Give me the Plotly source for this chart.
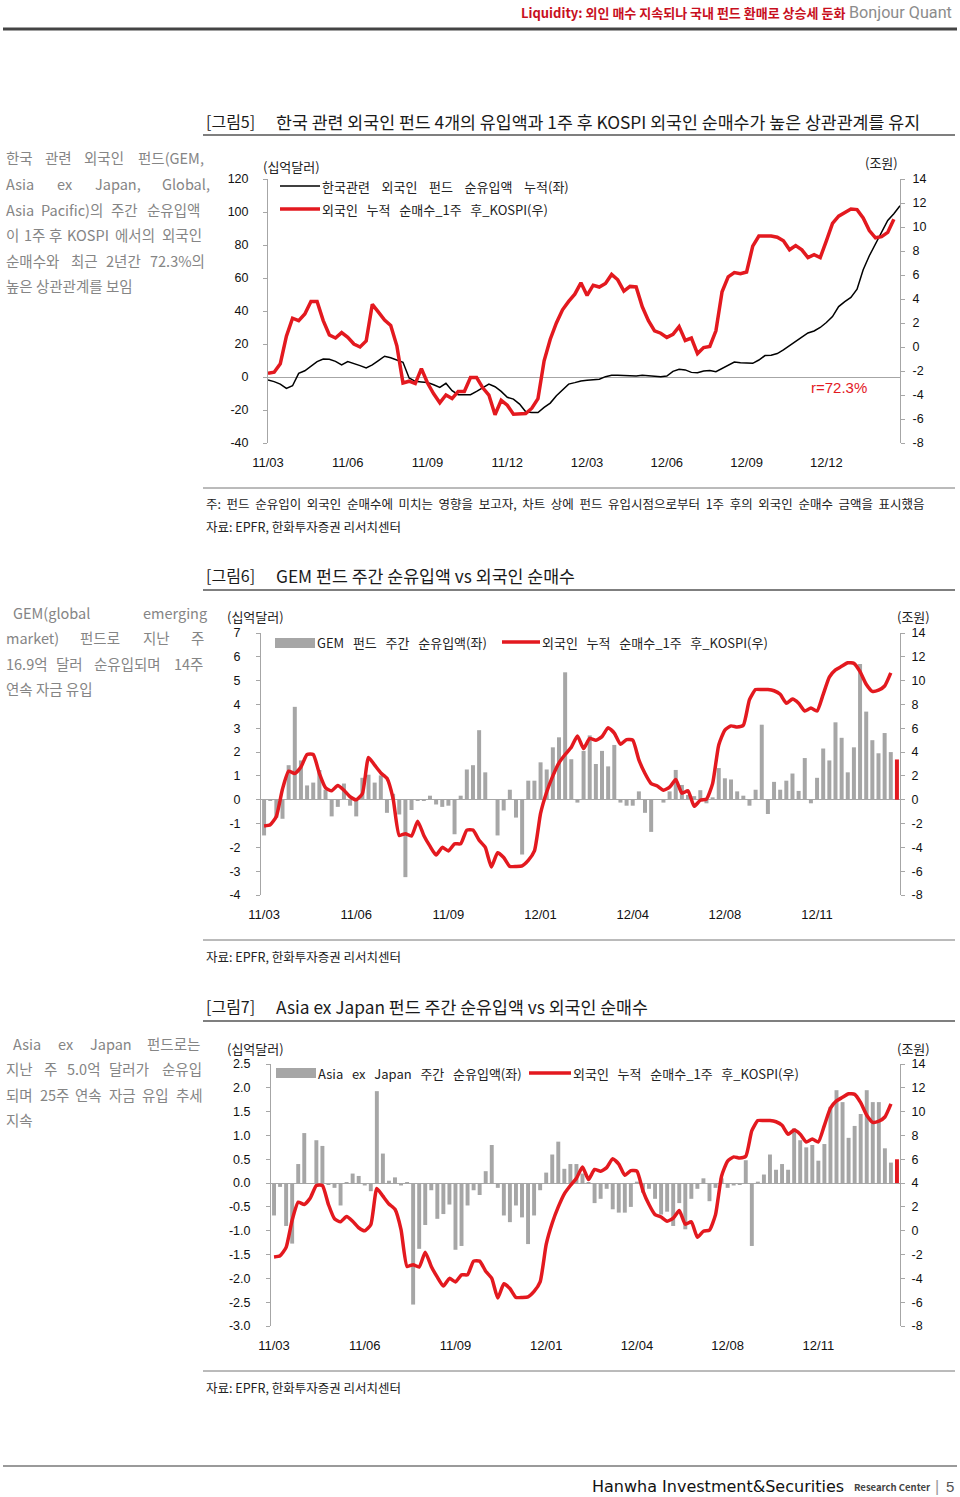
import plotly.graph_objects as go

W, H = 960, 1497
KR = "Noto Sans CJK KR"
NUM = "Liberation Sans"
RED = "#e3191f"
BAR_GRAY = "#a6a6a6"
AXIS_GRAY = "#a6a6a6"

# ---------------- data ----------------
weeks = list(range(104))

# 외국인 누적 순매수_1주 후_KOSPI (조원)
kospi_foreign_cum = [
    -2.2, -2.1, -1.4, 0.9, 2.4, 2.2, 2.75, 3.8, 3.8, 2.2,
    1.0, 0.75, 1.2, 0.8, 0.25, 0.0, 0.5, 3.55, 2.9, 2.25,
    1.8, 0.1, -3.0, -2.85, -3.05, -1.8, -3.0, -3.9, -4.65, -4.0,
    -4.3, -3.7, -3.7, -2.55, -2.55, -3.4, -4.0, -5.65, -4.45, -4.85,
    -5.6, -5.6, -5.55, -5.1, -4.3, -1.15, 0.65, 2.0, 3.1, 3.8,
    4.4, 5.35, 4.3, 5.15, 5.0, 5.3, 6.05, 5.6, 4.65, 5.05,
    5.0, 3.35, 2.2, 1.35, 1.15, 0.8, 1.05, 1.7, 0.55, 0.75,
    -0.55, -0.05, 0.05, 1.35, 4.6, 5.85, 6.2, 6.1, 6.25, 8.4,
    9.25, 9.25, 9.25, 9.15, 8.85, 8.1, 8.45, 8.1, 7.45, 7.7,
    7.45, 8.85, 10.3, 10.9, 11.2, 11.5, 11.45, 10.75, 9.7, 9.1,
    9.2, 9.55, 10.65,
]

# 한국관련 외국인 펀드 순유입액 누적 (십억달러)
korea_fund_cum = [
    -1.8, -2.8, -4.3, -6.9, -5.3, 2.2, 3.8, 6.3, 9.3, 10.9,
    10.7, 9.5, 7.3, 9.3, 8.3, 6.9, 5.5, 7.3, 9.9, 12.6,
    11.7, 10.5, 8.9, -0.6, -2.6, -3.0, -3.4, -4.7, -6.3, -3.8,
    -8.3, -10.7, -10.7, -10.7, -8.7, -6.7, -4.3, -5.9, -8.7, -12.3,
    -13.4, -16.4, -21.1, -21.5, -21.5, -18.4, -15.8, -11.3, -7.9, -4.3,
    -3.4, -2.4, -2.0, -1.8, -1.4, 0.2, 1.0, 1.0, 0.8, 0.6,
    0.6, 1.0, 0.8, 0.4, 0.2, 0.6, 3.4, 4.7, 4.3, 2.8,
    2.6, 3.6, 4.0, 3.2, 5.3, 7.3, 9.1, 8.7, 8.3, 8.3,
    10.3, 13.0, 13.2, 14.2, 16.4, 18.8, 21.5, 24.1, 26.7, 27.9,
    30.0, 33.0, 36.6, 42.7, 45.7, 48.2, 53.2, 65.0, 73.5, 80.6,
    88.3, 94.9, 99.0, 103.8,
]

# GEM 펀드 주간 순유입액 (십억달러)
gem_weekly = [
    -1.5, -0.05, -0.75, -0.8, 1.45, 3.9, 1.65, 0.6, 0.72, 1.25,
    0.42, -0.7, -0.3, 0.68, -0.25, -0.7, 0.92, 1.05, 0.72, 1.02,
    -0.55, 0.25, -0.62, -3.25, -0.43, -0.05, -0.05, 0.17, -0.2, -0.3,
    -0.25, -1.45, 0.17, 1.27, 1.45, 2.92, 1.15, 0.03, -1.5, -0.45,
    0.42, -0.75, -2.3, 0.8, 0.8, 1.57, 1.27, 2.2, 2.62, 5.35,
    1.7, -0.12, 2.05, 2.7, 1.5, 2.05, 1.4, 2.3, -0.12, -0.25,
    -0.25, 0.35, -0.55, -1.35, 0.02, -0.12, 0.35, 1.25, 0.62, 0.2,
    0.15, 0.4, -0.15, 0.1, 1.33, 0.9, 0.85, 0.35, 0.17, -0.25,
    0.42, 3.15, -0.6, 0.75, 0.42, 0.8, 1.1, 0.37, 1.75, -0.15,
    0.92, 2.15, 1.65, 3.25, 2.6, 1.15, 2.2, 5.7, 3.7, 2.5,
    1.95, 2.8, 2.0, 1.69,
]

# Asia ex Japan 주간 순유입액 (십억달러)
axj_weekly = [
    -0.68, -0.08, -0.9, -1.27, 0.4, 1.05, -0.01, 0.9, 0.78, -0.02,
    -0.1, -0.47, 0.02, 0.2, 0.15, -0.05, -0.17, 1.93, 0.62, 0.05,
    0.12, -0.05, 0.02, -2.55, -1.38, -0.88, -0.15, -0.75, -0.65, -0.45,
    -1.4, -1.32, -0.47, -0.15, -0.25, 0.25, 0.8, -0.1, -0.68, -0.82,
    -0.47, -0.72, -1.28, -0.68, -0.15, 0.22, 0.6, 0.87, 0.3, 0.4,
    0.4, 0.2, 0.02, -0.42, -0.33, -0.12, -0.55, -0.62, -0.62, -0.5,
    0.03, -0.2, -0.12, -0.33, -0.66, -0.6, -0.9, -0.42, -0.97, -0.33,
    -0.12, 0.1, -0.38, -0.1, 0.1, -0.1, -0.05, -0.03, 0.48, -1.32,
    0.03, 0.18, 0.6, 0.28, 0.4, 0.28, 1.15, 0.9, 0.75, 0.8,
    0.47, 0.82, 1.6, 1.95, 1.7, 0.95, 1.2, 1.45, 1.95, 1.7,
    1.7, 0.73, 0.43, 0.5,
]

fig5_tickvals = [0, 13, 26, 39, 52, 65, 78, 91]
fig5_ticktext = ["11/03", "11/06", "11/09", "11/12", "12/03", "12/06", "12/09", "12/12"]
fig67_tickvals = [0, 15, 30, 45, 60, 75, 90]
fig67_ticktext = ["11/03", "11/06", "11/09", "12/01", "12/04", "12/08", "12/11"]

fig5_left_ticks = [-40, -20, 0, 20, 40, 60, 80, 100, 120]
kospi_ticks = [-8, -6, -4, -2, 0, 2, 4, 6, 8, 10, 12, 14]
gem_ticks = [-4, -3, -2, -1, 0, 1, 2, 3, 4, 5, 6, 7]
axj_ticks = [-3.0, -2.5, -2.0, -1.5, -1.0, -0.5, 0.0, 0.5, 1.0, 1.5, 2.0, 2.5]

# ---------------- figure ----------------
red_x = weeks[:len(kospi_foreign_cum)]
fig = go.Figure()
fig.add_trace(go.Scatter(x=weeks, y=korea_fund_cum, xaxis="x", yaxis="y", mode="lines",
                         line=dict(color="#000000", width=1.5), showlegend=False, hoverinfo="skip"))
fig.add_trace(go.Scatter(x=red_x, y=kospi_foreign_cum, xaxis="x", yaxis="y2", mode="lines",
                         line=dict(color=RED, width=3.5), showlegend=False, hoverinfo="skip"))

gem_colors = [BAR_GRAY] * (len(gem_weekly) - 1) + [RED]
fig.add_trace(go.Bar(x=weeks, y=gem_weekly, xaxis="x2", yaxis="y3", marker=dict(color=gem_colors, line=dict(width=0)),
                     showlegend=False, hoverinfo="skip"))
fig.add_trace(go.Scatter(x=red_x, y=kospi_foreign_cum, xaxis="x2", yaxis="y4", mode="lines",
                         line=dict(color=RED, width=3.5, shape="spline", smoothing=0.5), showlegend=False, hoverinfo="skip"))

axj_colors = [BAR_GRAY] * (len(axj_weekly) - 1) + [RED]
fig.add_trace(go.Bar(x=weeks, y=axj_weekly, xaxis="x3", yaxis="y5", marker=dict(color=axj_colors, line=dict(width=0)),
                     showlegend=False, hoverinfo="skip"))
fig.add_trace(go.Scatter(x=red_x, y=kospi_foreign_cum, xaxis="x3", yaxis="y6", mode="lines",
                         line=dict(color=RED, width=3.5, shape="spline", smoothing=0.5), showlegend=False, hoverinfo="skip"))


def px(x):
    return x / W


def py(y):
    return 1 - y / H


def xax(x0, x1, anchor, rng, tv, tt):
    return dict(domain=[px(x0), px(x1)], anchor=anchor, range=rng, showgrid=False, zeroline=False,
                showline=False, ticks="", tickmode="array", tickvals=tv, ticktext=tt, automargin=False,
                tickfont=dict(family=NUM, size=13, color="#111"), ticklabelstandoff=10, fixedrange=True)


def fmt(v, dec=0):
    return f"{v:.{dec}f}"


def yax(rng, tv, dec=0, side="left", domain=None, overlaying=None, anchor=None, zeroline=False, standoff=10):
    d = dict(range=rng, showgrid=False, zeroline=zeroline, zerolinecolor=AXIS_GRAY, zerolinewidth=1,
             showline=True, linecolor=AXIS_GRAY, linewidth=1, ticks="outside", ticklen=4,
             tickcolor=AXIS_GRAY, tickwidth=1, tickmode="array", tickvals=tv, automargin=False,
             ticktext=[fmt(v, dec) for v in tv], side=side,
             tickfont=dict(family=NUM, size=12.5, color="#111"), ticklabelstandoff=standoff, fixedrange=True)
    if domain is not None:
        d["domain"] = domain
    if overlaying is not None:
        d["overlaying"] = overlaying
    if anchor is not None:
        d["anchor"] = anchor
    return d


fig.update_layout(
    width=W, height=H, margin=dict(l=0, r=0, t=0, b=0, pad=0, autoexpand=False),
    paper_bgcolor="white", plot_bgcolor="rgba(0,0,0,0)",
    bargap=0.35, showlegend=False,
    xaxis=xax(268, 900, "y", [0, 103], fig5_tickvals, fig5_ticktext),
    yaxis=yax([-40, 120], fig5_left_ticks, domain=[py(443), py(179)], anchor="x", zeroline=True, standoff=12),
    yaxis2=yax([-8, 14], kospi_ticks, side="right", overlaying="y", anchor="x", standoff=5),
    xaxis2=xax(261, 900, "y3", [-0.5, 103.5], fig67_tickvals, fig67_ticktext),
    yaxis3=yax([-4, 7], gem_ticks, domain=[py(895), py(633)], anchor="x2", zeroline=True, standoff=13),
    yaxis4=yax([-8, 14], kospi_ticks, side="right", overlaying="y3", anchor="x2", standoff=4),
    xaxis3=xax(271, 900, "y5", [-0.5, 103.5], fig67_tickvals, fig67_ticktext),
    yaxis5=yax([-3, 2.5], axj_ticks, dec=1, domain=[py(1326), py(1064)], anchor="x3", zeroline=True, standoff=13),
    yaxis6=yax([-8, 14], kospi_ticks, side="right", overlaying="y5", anchor="x3", standoff=4),
)

annotations = []
shapes = []


def txt(x, y, s, size, color="#222", family=KR, anchor="left", weight="normal"):
    annotations.append(dict(x=px(x), y=py(y), xref="paper", yref="paper", text=s, showarrow=False,
                            xanchor=anchor, yanchor="middle", borderpad=0,
                            font=dict(size=size, color=color, family=family, weight=weight)))


def hline(x0, x1, y, color, width):
    shapes.append(dict(type="line", xref="paper", yref="paper", x0=px(x0), x1=px(x1), y0=py(y), y1=py(y),
                       line=dict(color=color, width=width)))


def rect(x0, x1, y0, y1, color):
    shapes.append(dict(type="rect", xref="paper", yref="paper", x0=px(x0), x1=px(x1), y0=py(y1), y1=py(y0),
                       fillcolor=color, line=dict(width=0)))


def em_width(s):
    w = 0.0
    for ch in s:
        o = ord(ch)
        if 0xAC00 <= o <= 0xD7A3:
            w += 1.0
        elif ch == " ":
            w += 0.224
        elif ch.isdigit():
            w += 0.555
        elif ch in ",.:;":
            w += 0.25
        elif ch in "()":
            w += 0.33
        elif ch == "%":
            w += 0.87
        elif ch in "MW":
            w += 0.8
        elif ch.isupper():
            w += 0.62
        elif ch in "iljf":
            w += 0.25
        elif ch in "mw":
            w += 0.8
        elif ch.islower():
            w += 0.54
        else:
            w += 0.5
    return w


SIDE_GRAY = "#858585"
SIDE_SIZE = 14.5


def side_par(lines, y0, x0=5, x1=204, first_x=None):
    for k, line in enumerate(lines):
        y = y0 + k * 25.5
        start = first_x if (k == 0 and first_x is not None) else x0
        last = (k == len(lines) - 1)
        words = line.split(" ")
        if last or len(words) == 1:
            txt(start, y, line.replace(" ", "\u00a0"), SIDE_SIZE, SIDE_GRAY)
            continue
        widths = [em_width(w) * SIDE_SIZE for w in words]
        gap = (x1 - start - sum(widths)) / (len(words) - 1)
        xx = start
        for w, wd in zip(words, widths):
            txt(xx, y, w, SIDE_SIZE, SIDE_GRAY)
            xx += wd + gap


NB2 = "\u00a0\u00a0"
NB3 = "\u00a0\u00a0\u00a0"
NB4 = "\u00a0\u00a0\u00a0\u00a0"
TITLE_SIZE = 17.3

# header
txt(846, 12, "Liquidity: 외인 매수 지속되나 국내 펀드 환매로 상승세 둔화", 13, "#c8101e", anchor="right", weight="bold")
txt(848, 12, "Bonjour Quant", 16.2, "#8c8c8c", family="Roboto")
hline(3, 957, 29, "#444444", 3)

# ---- figure 5 ----
txt(205, 121, "[그림5]", 16, "#1a1a1a")
txt(275, 121, "한국 관련 외국인 펀드 4개의 유입액과 1주 후 KOSPI 외국인 순매수가 높은 상관관계를 유지", TITLE_SIZE, "#1a1a1a")
hline(203, 955, 135, "#555555", 1.5)
side_par(["한국 관련 외국인 펀드(GEM,", "Asia ex Japan, Global,", "Asia Pacific)의 주간 순유입액",
          "이 1주 후 KOSPI 에서의 외국인", "순매수와 최근 2년간 72.3%의", "높은 상관관계를 보임"], 158)
txt(262, 167, "(십억달러)", 13, "#222")
txt(864, 162, "(조원)", 13, "#222")
hline(280, 320, 186, "#000000", 1.5)
txt(321, 186, NB4.join(["한국관련", "외국인", "펀드", "순유입액", "누적(좌)"]), 13, "#222")
hline(280, 320, 209, RED, 3.5)
txt(321, 209, NB3.join(["외국인", "누적", "순매수_1주", "후_KOSPI(우)"]), 13, "#222")
txt(810, 388, "r=72.3%", 15, RED, family=NUM)
hline(203, 955, 488, "#777777", 1)
note_words = "주: 펀드 순유입이 외국인 순매수에 미치는 영향을 보고자, 차트 상에 펀드 유입시점으로부터 1주 후의 외국인 순매수 금액을 표시했음".split(" ")
txt(205, 503, NB2.join(note_words), 12.5, "#222")
txt(205, 526, "자료: EPFR, 한화투자증권 리서치센터", 12.5, "#222")

# ---- figure 6 ----
txt(205, 575, "[그림6]", 16, "#1a1a1a")
txt(275, 575, "GEM 펀드 주간 순유입액 vs 외국인 순매수", TITLE_SIZE, "#1a1a1a")
hline(203, 955, 590, "#555555", 1.5)
side_par(["GEM(global emerging", "market) 펀드로 지난 주", "16.9억 달러 순유입되며 14주", "연속 자금 유입"], 612,
         first_x=12)
txt(226, 617, "(십억달러)", 13, "#222")
txt(896, 617, "(조원)", 13, "#222")
rect(275, 315, 638, 648, BAR_GRAY)
txt(316, 642, NB3.join(["GEM", "펀드", "주간", "순유입액(좌)"]), 13, "#222")
hline(502, 540, 642, RED, 3.5)
txt(541, 642, NB3.join(["외국인", "누적", "순매수_1주", "후_KOSPI(우)"]), 13, "#222")
hline(203, 955, 940, "#777777", 1)
txt(205, 956, "자료: EPFR, 한화투자증권 리서치센터", 12.5, "#222")

# ---- figure 7 ----
txt(205, 1006, "[그림7]", 16, "#1a1a1a")
txt(275, 1006, "Asia ex Japan 펀드 주간 순유입액 vs 외국인 순매수", TITLE_SIZE, "#1a1a1a")
hline(203, 955, 1021, "#555555", 1.5)
side_par(["Asia ex Japan 펀드로는", "지난 주 5.0억 달러가 순유입", "되며 25주 연속 자금 유입 추세", "지속"], 1043,
         first_x=12)
txt(226, 1048, "(십억달러)", 13, "#222")
txt(896, 1048, "(조원)", 13, "#222")
rect(276, 316, 1068, 1078, BAR_GRAY)
txt(317, 1073, NB3.join(["Asia", "ex", "Japan", "주간", "순유입액(좌)"]), 13, "#222")
hline(529, 571, 1073, RED, 3.5)
txt(572, 1073, NB3.join(["외국인", "누적", "순매수_1주", "후_KOSPI(우)"]), 13, "#222")
hline(203, 955, 1371, "#777777", 1)
txt(205, 1387, "자료: EPFR, 한화투자증권 리서치센터", 12.5, "#222")

# footer
hline(3, 957, 1466, "#9a9a9a", 2)
txt(591, 1486, "Hanwha Investment&Securities", 16, "#111", family="DejaVu Sans")
txt(853, 1487, "Research Center", 9.5, "#444", weight="bold")
txt(934, 1486, "|", 16, "#999", family=NUM)
txt(945, 1486, "5", 15, "#555", family=NUM)

fig.update_layout(annotations=annotations, shapes=shapes)
fig.write_html("out.html", config={"displayModeBar": False},
               post_script="document.body.style.margin='0';document.body.style.overflow='hidden';")
